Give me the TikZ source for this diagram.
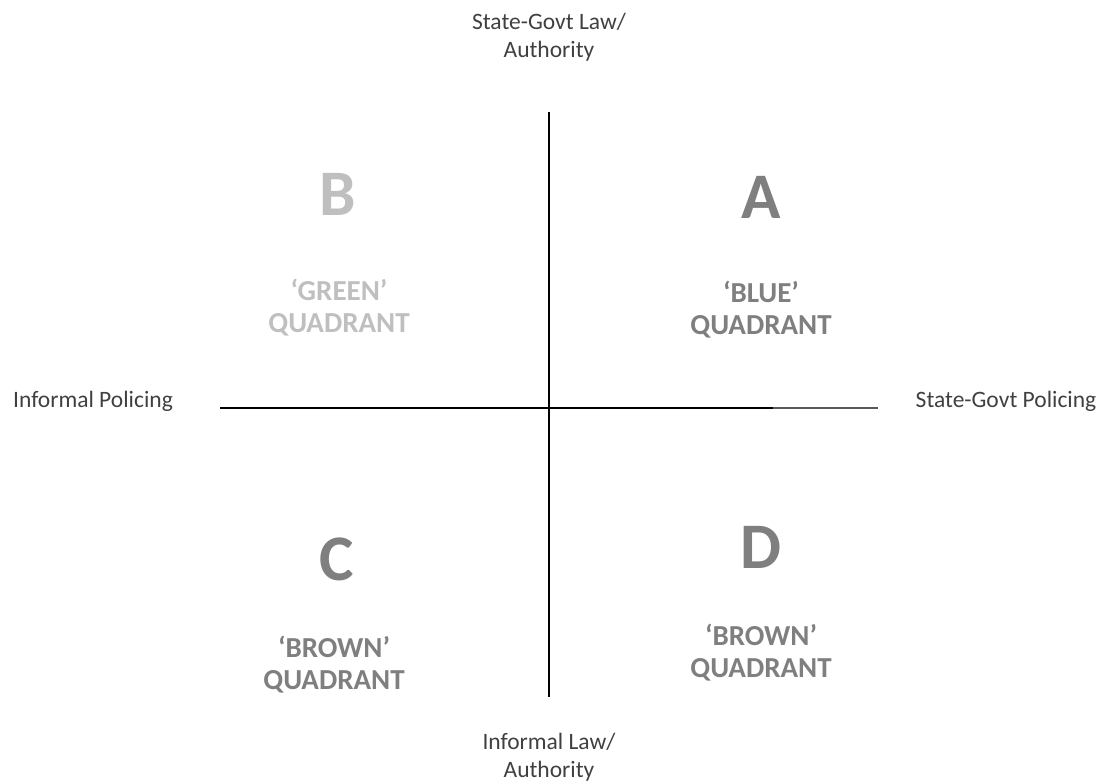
\documentclass[tikz,border=0pt]{standalone}
\usepackage{fontspec}
\setmainfont{Carlito}
\usepackage{tikz}

\definecolor{darkgrey}{HTML}{7F7F7F}
\definecolor{lightgrey}{HTML}{BFBFBF}
\definecolor{labelgrey}{HTML}{404040}

\begin{document}
\begin{tikzpicture}[x=1pt,y=-1pt,
        letter/.style={inner sep=0pt,font=\fontsize{65}{70}\selectfont\bfseries},
        quad/.style={inner sep=0pt,align=center,font=\fontsize{29}{32}\selectfont\bfseries},
        axislabel/.style={inner sep=0pt,align=center,text=labelgrey,font=\fontsize{23.5}{28}\selectfont}]
        \useasboundingbox (0,0) rectangle (1103,782);
        % axes
        \coordinate (West) at (220,408);
        \coordinate (East) at (878,408);
        \coordinate (Mid) at (773,408);
        \coordinate (North) at (549,112);
        \coordinate (South) at (549,697);
        \draw[line width=1.2pt] (West) -- (Mid);
        \draw[line width=1.2pt,black!65] (Mid) -- (East);
        \draw[line width=1.2pt] (North) -- (South);
        % axis labels
        \node[axislabel] (top) at (549,37) {State-Govt Law/\\Authority};
        \node[axislabel] (bottom) at (549,757) {Informal Law/\\Authority};
        \node[axislabel] (left) at (93,401) {Informal Policing};
        \node[axislabel] (right) at (1006,401) {State-Govt Policing};
        % quadrants
        \node[letter,text=lightgrey] (B) at (338,194) {B};
        \node[quad,text=lightgrey] (Bq) at (339,308) {‘GREEN’\\QUADRANT};
        \node[letter,text=darkgrey] (A) at (761,197) {A};
        \node[quad,text=darkgrey] (Aq) at (761,310) {‘BLUE’\\QUADRANT};
        \node[letter,text=darkgrey] (C) at (337,559) {C};
        \node[quad,text=darkgrey] (Cq) at (334,665) {‘BROWN’\\QUADRANT};
        \node[letter,text=darkgrey] (D) at (761,547) {D};
        \node[quad,text=darkgrey] (Dq) at (761,653) {‘BROWN’\\QUADRANT};
\end{tikzpicture}
\end{document}
